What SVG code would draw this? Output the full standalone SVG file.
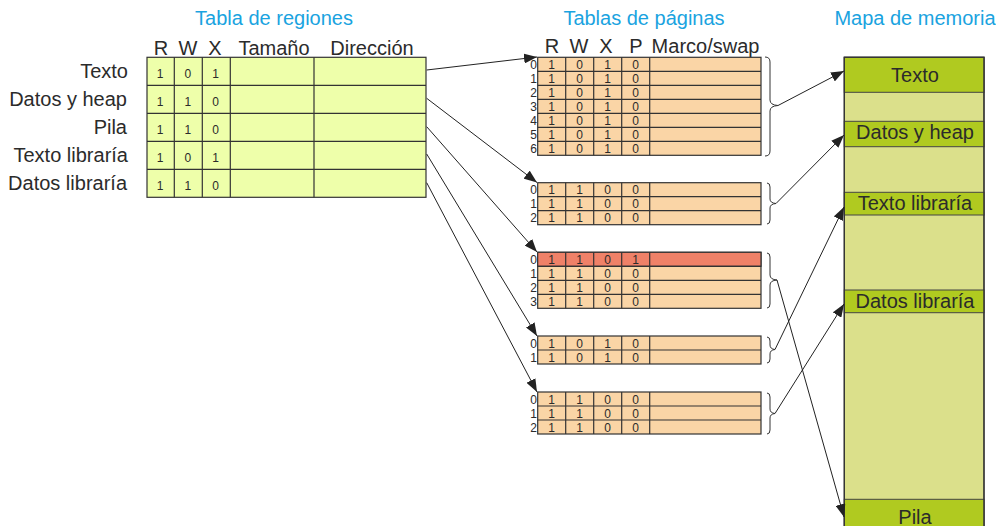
<svg xmlns="http://www.w3.org/2000/svg" width="996" height="526" viewBox="0 0 996 526">
<defs>
<style>
text{font-family:"Liberation Sans",Arial,sans-serif;fill:#2b2b2b}
.title{font-size:20px;fill:#1aa3e0;text-anchor:middle}
.hdr{font-size:20px;text-anchor:middle}
.lbl{font-size:20px;text-anchor:end}
.mem{font-size:20px;text-anchor:middle}
.d{font-size:12px;text-anchor:middle}
.n{font-size:12px;text-anchor:end}
.rt{fill:#eeffaa;stroke:#333;stroke-width:1.2}
.pt{fill:#fad5a6;stroke:#333;stroke-width:1.2}
.red{fill:#ef8168;stroke:#333;stroke-width:1.2}
.ln{stroke:#333;stroke-width:1.2;fill:none}
.dk{fill:#b0ca20;stroke:#444;stroke-width:1}
.lt{fill:#dbe08b;stroke:#333;stroke-width:1.2}
.br{fill:none;stroke:#333;stroke-width:1}
.ar{fill:none;stroke:#222;stroke-width:1;marker-end:url(#ah)}
</style>
<marker id="ah" markerUnits="userSpaceOnUse" markerWidth="14" markerHeight="10" refX="13" refY="5" orient="auto">
<path d="M0,0 L13,5 L0,10 z" fill="#222"/>
</marker>
</defs>
<rect width="996" height="526" fill="#fff"/>

<g id="titles">
<text class="title" x="274" y="25">Tabla de regiones</text>
<text class="title" x="644" y="25">Tablas de páginas</text>
<text class="title" x="915" y="25">Mapa de memoria</text>
</g>

<g id="region-table">
<text class="hdr" x="161" y="55">R</text>
<text class="hdr" x="188" y="55">W</text>
<text class="hdr" x="215" y="55">X</text>
<text class="hdr" x="274" y="55">Tamaño</text>
<text class="hdr" x="372" y="55">Dirección</text>
<rect class="rt" x="147" y="57.3" width="279" height="140"/>
<path class="ln" d="M147,85.3H426M147,113.3H426M147,141.3H426M147,169.3H426M174.3,57.3V197.3M202.3,57.3V197.3M230.3,57.3V197.3M314,57.3V197.3"/>
<text class="lbl" x="128" y="77.5">Texto</text>
<text class="lbl" x="127" y="105.5">Datos y heap</text>
<text class="lbl" x="127" y="133.5">Pila</text>
<text class="lbl" x="128" y="161.5">Texto libraría</text>
<text class="lbl" x="127" y="189.5">Datos libraría</text>
<text class="d" x="160" y="78">1</text><text class="d" x="187.8" y="78">0</text><text class="d" x="215.5" y="78">1</text>
<text class="d" x="160" y="106">1</text><text class="d" x="187.8" y="106">1</text><text class="d" x="215.5" y="106">0</text>
<text class="d" x="160" y="134">1</text><text class="d" x="187.8" y="134">1</text><text class="d" x="215.5" y="134">0</text>
<text class="d" x="160" y="162">1</text><text class="d" x="187.8" y="162">0</text><text class="d" x="215.5" y="162">1</text>
<text class="d" x="160" y="190">1</text><text class="d" x="187.8" y="190">1</text><text class="d" x="215.5" y="190">0</text>
</g>

<g id="page-table-1">
<text class="hdr" x="552" y="53">R</text>
<text class="hdr" x="579" y="53">W</text>
<text class="hdr" x="606" y="53">X</text>
<text class="hdr" x="636" y="53">P</text>
<text class="hdr" x="705.5" y="53">Marco/swap</text>
<rect class="pt" x="537.7" y="57.3" width="223.3" height="98"/>
<path class="ln" d="M537.7,71.3H761M537.7,85.3H761M537.7,99.3H761M537.7,113.3H761M537.7,127.3H761M537.7,141.3H761M565.7,57.3V155.3M593.7,57.3V155.3M621.7,57.3V155.3M649.7,57.3V155.3"/>
<text class="n" x="537" y="68.5">0</text><text class="d" x="551.7" y="68.5">1</text><text class="d" x="579.7" y="68.5">0</text><text class="d" x="607.7" y="68.5">1</text><text class="d" x="635.7" y="68.5">0</text>
<text class="n" x="537" y="82.5">1</text><text class="d" x="551.7" y="82.5">1</text><text class="d" x="579.7" y="82.5">0</text><text class="d" x="607.7" y="82.5">1</text><text class="d" x="635.7" y="82.5">0</text>
<text class="n" x="537" y="96.5">2</text><text class="d" x="551.7" y="96.5">1</text><text class="d" x="579.7" y="96.5">0</text><text class="d" x="607.7" y="96.5">1</text><text class="d" x="635.7" y="96.5">0</text>
<text class="n" x="537" y="110.5">3</text><text class="d" x="551.7" y="110.5">1</text><text class="d" x="579.7" y="110.5">0</text><text class="d" x="607.7" y="110.5">1</text><text class="d" x="635.7" y="110.5">0</text>
<text class="n" x="537" y="124.5">4</text><text class="d" x="551.7" y="124.5">1</text><text class="d" x="579.7" y="124.5">0</text><text class="d" x="607.7" y="124.5">1</text><text class="d" x="635.7" y="124.5">0</text>
<text class="n" x="537" y="138.5">5</text><text class="d" x="551.7" y="138.5">1</text><text class="d" x="579.7" y="138.5">0</text><text class="d" x="607.7" y="138.5">1</text><text class="d" x="635.7" y="138.5">0</text>
<text class="n" x="537" y="152.5">6</text><text class="d" x="551.7" y="152.5">1</text><text class="d" x="579.7" y="152.5">0</text><text class="d" x="607.7" y="152.5">1</text><text class="d" x="635.7" y="152.5">0</text>
<path class="br" d="M765,57 Q770,57 770,62 V100 Q770,105 778,105.5 Q770,106 770,111 V151 Q770,156 765,156"/>
</g>

<g id="page-table-2">
<rect class="pt" x="537.7" y="182.7" width="223.3" height="42"/>
<path class="ln" d="M537.7,196.7H761M537.7,210.7H761M565.7,182.7V224.7M593.7,182.7V224.7M621.7,182.7V224.7M649.7,182.7V224.7"/>
<text class="n" x="537" y="194">0</text><text class="d" x="551.7" y="194">1</text><text class="d" x="579.7" y="194">1</text><text class="d" x="607.7" y="194">0</text><text class="d" x="635.7" y="194">0</text>
<text class="n" x="537" y="208">1</text><text class="d" x="551.7" y="208">1</text><text class="d" x="579.7" y="208">1</text><text class="d" x="607.7" y="208">0</text><text class="d" x="635.7" y="208">0</text>
<text class="n" x="537" y="222">2</text><text class="d" x="551.7" y="222">1</text><text class="d" x="579.7" y="222">1</text><text class="d" x="607.7" y="222">0</text><text class="d" x="635.7" y="222">0</text>
<path class="br" d="M767,183 Q770,183 770,187 V199 Q770,203 776,203.5 Q770,204 770,208 V220 Q770,224 767,224"/>
</g>

<g id="page-table-3">
<rect class="pt" x="537.7" y="252.3" width="223.3" height="56"/>
<rect class="red" x="537.7" y="252.3" width="223.3" height="14"/>
<path class="ln" d="M537.7,266.3H761M537.7,280.3H761M537.7,294.3H761M565.7,252.3V308.3M593.7,252.3V308.3M621.7,252.3V308.3M649.7,252.3V308.3"/>
<text class="n" x="537" y="263.5">0</text><text class="d" x="551.7" y="263.5">1</text><text class="d" x="579.7" y="263.5">1</text><text class="d" x="607.7" y="263.5">0</text><text class="d" x="635.7" y="263.5">1</text>
<text class="n" x="537" y="277.5">1</text><text class="d" x="551.7" y="277.5">1</text><text class="d" x="579.7" y="277.5">1</text><text class="d" x="607.7" y="277.5">0</text><text class="d" x="635.7" y="277.5">0</text>
<text class="n" x="537" y="291.5">2</text><text class="d" x="551.7" y="291.5">1</text><text class="d" x="579.7" y="291.5">1</text><text class="d" x="607.7" y="291.5">0</text><text class="d" x="635.7" y="291.5">0</text>
<text class="n" x="537" y="305.5">3</text><text class="d" x="551.7" y="305.5">1</text><text class="d" x="579.7" y="305.5">1</text><text class="d" x="607.7" y="305.5">0</text><text class="d" x="635.7" y="305.5">0</text>
<path class="br" d="M767,253 Q770,253 770,257 V275 Q770,279.5 777,280 Q770,280.5 770,285 V304 Q770,308 767,308"/>
</g>

<g id="page-table-4">
<rect class="pt" x="537.7" y="336" width="223.3" height="28"/>
<path class="ln" d="M537.7,350H761M565.7,336V364M593.7,336V364M621.7,336V364M649.7,336V364"/>
<text class="n" x="537" y="347.5">0</text><text class="d" x="551.7" y="347.5">1</text><text class="d" x="579.7" y="347.5">0</text><text class="d" x="607.7" y="347.5">1</text><text class="d" x="635.7" y="347.5">0</text>
<text class="n" x="537" y="361.5">1</text><text class="d" x="551.7" y="361.5">1</text><text class="d" x="579.7" y="361.5">0</text><text class="d" x="607.7" y="361.5">1</text><text class="d" x="635.7" y="361.5">0</text>
<path class="br" d="M767,337 Q770,337 770,341 V345 Q770,349 775,349.5 Q770,350 770,354 V359 Q770,363 767,363"/>
</g>

<g id="page-table-5">
<rect class="pt" x="537.7" y="392" width="223.3" height="42"/>
<path class="ln" d="M537.7,406H761M537.7,420H761M565.7,392V434M593.7,392V434M621.7,392V434M649.7,392V434"/>
<text class="n" x="537" y="403.5">0</text><text class="d" x="551.7" y="403.5">1</text><text class="d" x="579.7" y="403.5">1</text><text class="d" x="607.7" y="403.5">0</text><text class="d" x="635.7" y="403.5">0</text>
<text class="n" x="537" y="417.5">1</text><text class="d" x="551.7" y="417.5">1</text><text class="d" x="579.7" y="417.5">1</text><text class="d" x="607.7" y="417.5">0</text><text class="d" x="635.7" y="417.5">0</text>
<text class="n" x="537" y="431.5">2</text><text class="d" x="551.7" y="431.5">1</text><text class="d" x="579.7" y="431.5">1</text><text class="d" x="607.7" y="431.5">0</text><text class="d" x="635.7" y="431.5">0</text>
<path class="br" d="M767,393 Q770,393 770,397 V409 Q770,413 775,413.5 Q770,414 770,418 V430 Q770,434 767,434"/>
</g>

<g id="memory-map">
<rect class="lt" x="844.3" y="57.3" width="139.7" height="480"/>
<rect class="dk" x="844.3" y="57.3" width="139.7" height="35"/>
<rect class="dk" x="844.3" y="121.3" width="139.7" height="25.4"/>
<rect class="dk" x="844.3" y="192.3" width="139.7" height="22.7"/>
<rect class="dk" x="844.3" y="290" width="139.7" height="22.7"/>
<rect class="dk" x="844.3" y="499.3" width="139.7" height="40"/>
<rect x="844.3" y="57.3" width="139.7" height="480" fill="none" stroke="#333" stroke-width="1.2"/>
<text class="mem" x="915" y="81.5">Texto</text>
<text class="mem" x="915" y="138.5">Datos y heap</text>
<text class="mem" x="915" y="210">Texto libraría</text>
<text class="mem" x="915" y="307.5">Datos libraría</text>
<text class="mem" x="915" y="523.5">Pila</text>
</g>

<g id="connectors">
<path class="ar" d="M426.7,70 L537,57"/>
<path class="ar" d="M426.7,98.3 L537,182.5"/>
<path class="ar" d="M426.7,126.7 L537,252"/>
<path class="ar" d="M426.7,154 L537,336"/>
<path class="ar" d="M426.7,182.7 L537,392"/>
<path class="ar" d="M778,105.5 L844,71"/>
<path class="ar" d="M776,203.5 L844,135"/>
<path class="ar" d="M777,280 L844,517"/>
<path class="ar" d="M775,349.5 L844,207"/>
<path class="ar" d="M775,413.5 L844,304"/>
</g>
</svg>
